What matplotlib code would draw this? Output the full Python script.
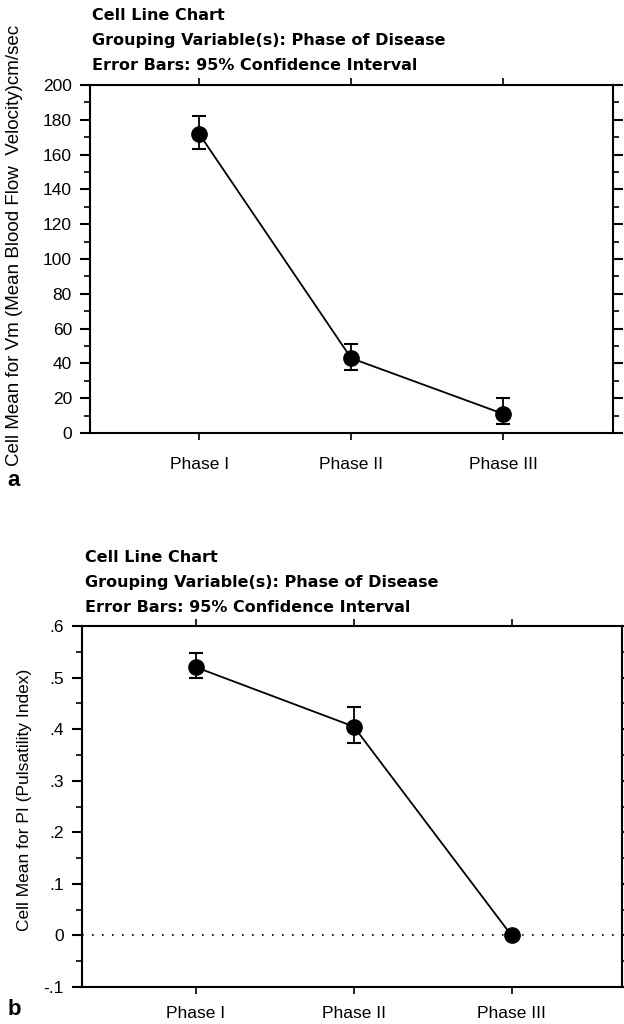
import numpy as np
import matplotlib
matplotlib.use("Agg")
import matplotlib.pyplot as plt
from matplotlib.ticker import MultipleLocator, FuncFormatter

plt.rcParams['font.family'] = ['Liberation Sans', 'DejaVu Sans']

# data
phases = ["Phase I", "Phase II", "Phase III"]

vm_mean = [172, 43, 11]
vm_low = [163, 36, 5]
vm_high = [182, 51, 20]

pi_mean = [0.52, 0.405, 0.0]
pi_low = [0.50, 0.374, 0.0]
pi_high = [0.547, 0.442, 0.0]

title_lines = ["Cell Line Chart",
               "Grouping Variable(s): Phase of Disease",
               "Error Bars: 95% Confidence Interval"]


def style_axes(ax, xlim, xpad):
    x = np.arange(1, len(phases) + 1)
    ax.set_xlim(*xlim)
    ax.set_xticks(x)
    ax.set_xticklabels(phases, fontsize=12.5)
    for s in ax.spines.values():
        s.set_linewidth(1.5)
    ax.tick_params(axis='x', which='both', direction='out', top=True,
                   length=5, width=1.2, pad=xpad)
    ax.tick_params(axis='y', which='major', direction='out', right=True,
                   length=7, width=1.5, labelsize=12.5, pad=6)
    ax.tick_params(axis='y', which='minor', direction='out', right=True,
                   length=4, width=1.2)


def draw_panel(ax, mean, low, high):
    x = np.arange(1, len(phases) + 1)
    m = np.array(mean)
    yerr = [m - np.array(low), np.array(high) - m]
    ax.errorbar(x, m, yerr=yerr, fmt='-o', color='black', lw=1.3,
                ms=11, elinewidth=1.3, capsize=5, capthick=1.5)


def put_titles(fig, x0, y0):
    for i, line in enumerate(title_lines):
        fig.text(x0, y0 - i * 0.0245, line, fontsize=11.5, fontweight='bold',
                 family='DejaVu Sans', va='center', ha='left')


fig = plt.figure(figsize=(6.24, 10.24), dpi=100)

# panel a
ax1 = fig.add_axes([0.1442, 0.5771, 0.838, 0.3399])
draw_panel(ax1, vm_mean, vm_low, vm_high)
ax1.set_ylim(0, 200)
ax1.yaxis.set_major_locator(MultipleLocator(20))
ax1.yaxis.set_minor_locator(MultipleLocator(10))
style_axes(ax1, (0.283, 3.72), 12)
ax1.set_ylabel("Cell Mean for Vm (Mean Blood Flow  Velocity)cm/sec",
               fontsize=13.5)
ax1.yaxis.set_label_coords(-0.128, 0.54)
put_titles(fig, 0.148, 0.985)
fig.text(0.012, 0.531, "a", fontsize=16, fontweight='bold', va='center')

# panel b
ax2 = fig.add_axes([0.1314, 0.0361, 0.8654, 0.3526])
draw_panel(ax2, pi_mean, pi_low, pi_high)
ax2.axhline(0, color='black', lw=1.2, ls=(0, (1, 5)), zorder=0)
ax2.set_ylim(-0.1, 0.6)
ax2.yaxis.set_major_locator(MultipleLocator(0.1))
ax2.yaxis.set_minor_locator(MultipleLocator(0.05))


def dot_fmt(v, pos):
    s = f"{v:.1f}"
    if abs(v) < 1e-9:
        return "0"
    return s.replace("0.", ".")


ax2.yaxis.set_major_formatter(FuncFormatter(dot_fmt))
style_axes(ax2, (0.278, 3.70), 9)
ax2.set_ylabel("Cell Mean for PI (Pulsatility Index)", fontsize=12.5)
ax2.yaxis.set_label_coords(-0.0926, 0.518)
put_titles(fig, 0.136, 0.456)
fig.text(0.012, 0.014, "b", fontsize=16, fontweight='bold', va='center')

fig.savefig("out.png", dpi=100)
